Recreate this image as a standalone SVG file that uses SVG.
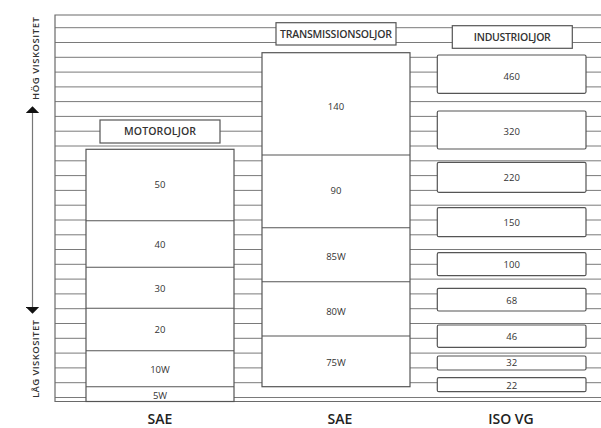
<svg xmlns="http://www.w3.org/2000/svg" width="601" height="428" viewBox="0 0 601 428">
<style>
.grid line{stroke:#7a7a7a;stroke-width:1}
.frame{stroke:#6a6a6a;stroke-width:1.2;fill:none}
.box{fill:#fff;stroke:#555;stroke-width:1.2}
.div{stroke:#555;stroke-width:1.1}
.v{font-family:"Open Sans","Liberation Sans",sans-serif;font-size:9.5px;fill:#333;text-anchor:middle}
.lbl{font-family:"Open Sans","Liberation Sans",sans-serif;font-size:10.5px;fill:#333;text-anchor:middle;font-weight:600}
.ax{font-family:"Open Sans","Liberation Sans",sans-serif;font-size:9.5px;fill:#333;text-anchor:middle;font-weight:600}
.cap{font-family:"Open Sans","Liberation Sans",sans-serif;font-size:14px;fill:#222;text-anchor:middle;font-weight:600}
</style>
<defs>
<marker id="ah" viewBox="0 0 10 10" refX="9" refY="5" markerWidth="7" markerHeight="14" markerUnits="userSpaceOnUse" orient="auto-start-reverse" preserveAspectRatio="none">
<path d="M0,0 L10,5 L0,10 Z" fill="#111"/>
</marker>
</defs>
<rect width="601" height="428" fill="#fff"/>
<g id="background" class="grid">
<line x1="55" y1="27.7" x2="601" y2="27.7"/>
<line x1="55" y1="42.5" x2="601" y2="42.5"/>
<line x1="55" y1="57.3" x2="601" y2="57.3"/>
<line x1="55" y1="72.1" x2="601" y2="72.1"/>
<line x1="55" y1="86.9" x2="601" y2="86.9"/>
<line x1="55" y1="101.6" x2="601" y2="101.6"/>
<line x1="55" y1="116.4" x2="601" y2="116.4"/>
<line x1="55" y1="131.2" x2="601" y2="131.2"/>
<line x1="55" y1="146" x2="601" y2="146"/>
<line x1="55" y1="160.8" x2="601" y2="160.8"/>
<line x1="55" y1="175.6" x2="601" y2="175.6"/>
<line x1="55" y1="190.4" x2="601" y2="190.4"/>
<line x1="55" y1="205.2" x2="601" y2="205.2"/>
<line x1="55" y1="220" x2="601" y2="220"/>
<line x1="55" y1="234.8" x2="601" y2="234.8"/>
<line x1="55" y1="249.5" x2="601" y2="249.5"/>
<line x1="55" y1="264.3" x2="601" y2="264.3"/>
<line x1="55" y1="279.1" x2="601" y2="279.1"/>
<line x1="55" y1="293.9" x2="601" y2="293.9"/>
<line x1="55" y1="308.7" x2="601" y2="308.7"/>
<line x1="55" y1="323.5" x2="601" y2="323.5"/>
<line x1="55" y1="338.3" x2="601" y2="338.3"/>
<line x1="55" y1="353.1" x2="601" y2="353.1"/>
<line x1="55" y1="367.9" x2="601" y2="367.9"/>
<line x1="55" y1="382.7" x2="601" y2="382.7"/>
<line x1="55" y1="397.5" x2="601" y2="397.5"/>
<path class="frame" d="M601,15 H55 V401.5 H601"/>
</g>
<g id="motoroljor-label">
<rect class="box" x="100" y="120" width="120" height="23"/>
<text class="lbl" x="160" y="135.3" textLength="72" lengthAdjust="spacing">MOTOROLJOR</text>
</g>
<g id="motor-sae">
<rect class="box" x="86" y="149.3" width="148" height="252.2"/>
<line class="div" x1="86" y1="220.7" x2="234" y2="220.7"/>
<line class="div" x1="86" y1="267.3" x2="234" y2="267.3"/>
<line class="div" x1="86" y1="308.3" x2="234" y2="308.3"/>
<line class="div" x1="86" y1="350.7" x2="234" y2="350.7"/>
<line class="div" x1="86" y1="386.7" x2="234" y2="386.7"/>
<text class="v" x="160" y="187.5">50</text>
<text class="v" x="160" y="247.5">40</text>
<text class="v" x="160" y="291.5">30</text>
<text class="v" x="160" y="332.5">20</text>
<text class="v" x="160" y="372.5">10W</text>
<text class="v" x="160" y="399.3">5W</text>
</g>
<g id="transmission-label">
<rect class="box" x="276" y="22.7" width="120" height="22.3"/>
<text class="lbl" x="336" y="37.6" textLength="112" lengthAdjust="spacing">TRANSMISSIONSOLJOR</text>
</g>
<g id="transmission-sae">
<rect class="box" x="262" y="52.7" width="148" height="334"/>
<line class="div" x1="262" y1="155" x2="410" y2="155"/>
<line class="div" x1="262" y1="227.7" x2="410" y2="227.7"/>
<line class="div" x1="262" y1="281.7" x2="410" y2="281.7"/>
<line class="div" x1="262" y1="336" x2="410" y2="336"/>
<text class="v" x="336" y="109.5">140</text>
<text class="v" x="336" y="193.5">90</text>
<text class="v" x="336" y="259.5">85W</text>
<text class="v" x="336" y="315.2">80W</text>
<text class="v" x="336" y="366.2">75W</text>
</g>
<g id="industri-label">
<rect class="box" x="452.3" y="25.7" width="120" height="22.6"/>
<text class="lbl" x="512.3" y="40.8" textLength="77" lengthAdjust="spacing">INDUSTRIOLJOR</text>
</g>
<g id="iso-460"><rect class="box" x="437.3" y="55" width="148.7" height="38.3" rx="1.5"/><text class="v" x="511.7" y="80">460</text></g>
<g id="iso-320"><rect class="box" x="437.3" y="111" width="148.7" height="38" rx="1.5"/><text class="v" x="511.7" y="134.5">320</text></g>
<g id="iso-220"><rect class="box" x="437.3" y="162.3" width="148.7" height="30" rx="1.5"/><text class="v" x="511.7" y="180.8">220</text></g>
<g id="iso-150"><rect class="box" x="437.3" y="207.7" width="148.7" height="29" rx="1.5"/><text class="v" x="511.7" y="226.2">150</text></g>
<g id="iso-100"><rect class="box" x="437.3" y="252.7" width="148.7" height="23" rx="1.5"/><text class="v" x="511.7" y="268.2">100</text></g>
<g id="iso-68"><rect class="box" x="437.3" y="288.3" width="148.7" height="22.7" rx="1.5"/><text class="v" x="511.7" y="304.2">68</text></g>
<g id="iso-46"><rect class="box" x="437.3" y="325" width="148.7" height="22.3" rx="1.5"/><text class="v" x="511.7" y="339.8">46</text></g>
<g id="iso-32"><rect class="box" x="437.3" y="356" width="148.7" height="14" rx="1.5"/><text class="v" x="511.7" y="366.4">32</text></g>
<g id="iso-22"><rect class="box" x="437.3" y="377.7" width="148.7" height="14" rx="1.5"/><text class="v" x="511.7" y="388.6">22</text></g>
<g id="connectors">
<line x1="32.5" y1="313" x2="32.5" y2="107" stroke="#777" stroke-width="1.2" marker-start="url(#ah)" marker-end="url(#ah)"/>
</g>
<g id="axis-labels">
<text class="ax" transform="translate(38.5,58.5) rotate(-90)" textLength="83" lengthAdjust="spacing">HÖG VISKOSITET</text>
<text class="ax" transform="translate(38.5,359) rotate(-90)" textLength="78" lengthAdjust="spacing">LÅG VISKOSITET</text>
</g>
<g id="captions">
<text class="cap" x="160" y="424">SAE</text>
<text class="cap" x="340" y="424">SAE</text>
<text class="cap" x="511" y="424">ISO VG</text>
</g>
</svg>
